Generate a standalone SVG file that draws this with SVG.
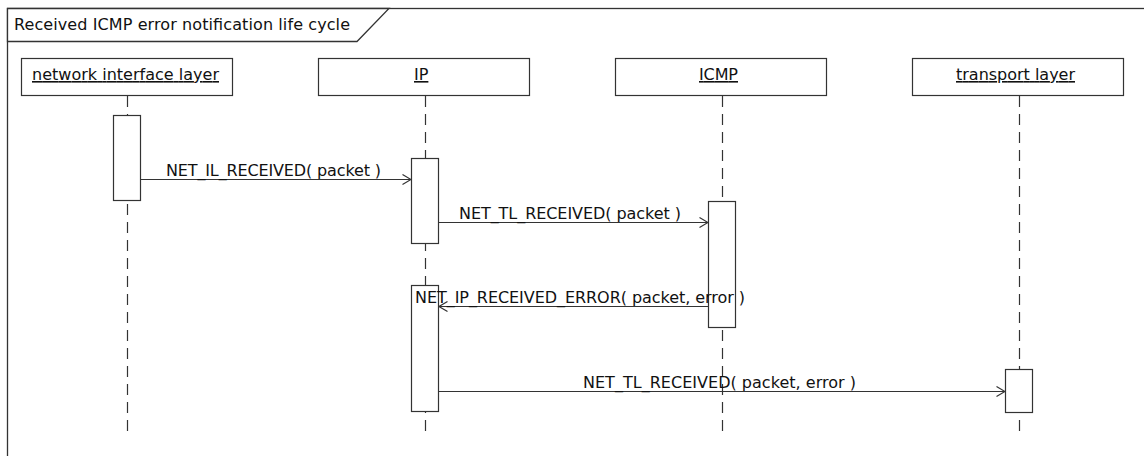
<svg xmlns="http://www.w3.org/2000/svg" width="1144" height="456" viewBox="0 0 1144 456">
  <style>
    .frame { fill: #ffffff; stroke: #333333; stroke-width: 1.3; }
    .box { fill: #ffffff; stroke: #333333; stroke-width: 1.2; }
    .life { stroke: #333333; stroke-width: 1.2; stroke-dasharray: 11 7; fill: none; }
    .msg { stroke: #333333; stroke-width: 1.2; fill: none; marker-end: url(#open); }
    text { font-family: "DejaVu Sans", "Liberation Sans", sans-serif; font-size: 16px; fill: #111111; }
    .name { text-decoration: underline; }
  </style>
  <defs>
    <marker id="open" viewBox="0 0 10 12" markerWidth="10" markerHeight="12" refX="9.5" refY="6" orient="auto" markerUnits="userSpaceOnUse">
      <path d="M1,1 L9.5,6 L1,11" fill="none" stroke="#333333" stroke-width="1.2"/>
    </marker>
  </defs>

  <!-- frame -->
  <g id="frame">
    <rect class="frame" x="7.5" y="8.5" width="1150" height="460"/>
    <path class="frame" d="M7.5,8.5 L389,8.5 L357,41.5 L7.5,41.5 Z"/>
    <text x="14" y="30" textLength="336">Received ICMP error notification life cycle</text>
  </g>

  <!-- lifelines -->
  <g id="lifeline-nil">
    <line class="life" x1="127.5" y1="96" x2="127.5" y2="434"/>
    <rect class="box" x="21.5" y="58.5" width="211" height="37"/>
    <text class="name" x="32" y="80" textLength="187">network interface layer</text>
    <rect class="box" x="113.5" y="115.5" width="27" height="85"/>
  </g>
  <g id="lifeline-ip">
    <line class="life" x1="425.5" y1="96" x2="425.5" y2="434"/>
    <rect class="box" x="318.5" y="58.5" width="211" height="37"/>
    <text class="name" x="414" y="80">IP</text>
    <rect class="box" x="411.5" y="158.5" width="27" height="85"/>
    <rect class="box" x="411.5" y="285.5" width="27" height="126"/>
  </g>
  <g id="lifeline-icmp">
    <line class="life" x1="722.5" y1="96" x2="722.5" y2="434"/>
    <rect class="box" x="615.5" y="58.5" width="211" height="37"/>
    <text class="name" x="699" y="80" textLength="39">ICMP</text>
    <rect class="box" x="708.5" y="201.5" width="27" height="126"/>
  </g>
  <g id="lifeline-transport">
    <line class="life" x1="1019.5" y1="96" x2="1019.5" y2="434"/>
    <rect class="box" x="912.5" y="58.5" width="211" height="37"/>
    <text class="name" x="956" y="80" textLength="119">transport layer</text>
    <rect class="box" x="1005.5" y="369.5" width="27" height="43"/>
  </g>

  <!-- messages -->
  <g id="connectors">
    <line class="msg" x1="141" y1="179.5" x2="411" y2="179.5"/>
    <text x="166" y="176" textLength="215">NET_IL_RECEIVED( packet )</text>
    <line class="msg" x1="439" y1="222.5" x2="708" y2="222.5"/>
    <text x="459" y="219" textLength="222">NET_TL_RECEIVED( packet )</text>
    <line class="msg" x1="708" y1="306.5" x2="439" y2="306.5"/>
    <text x="415" y="303" textLength="330">NET_IP_RECEIVED_ERROR( packet, error )</text>
    <line class="msg" x1="439" y1="391.5" x2="1005" y2="391.5"/>
    <text x="583" y="388" textLength="273">NET_TL_RECEIVED( packet, error )</text>
  </g>
</svg>
